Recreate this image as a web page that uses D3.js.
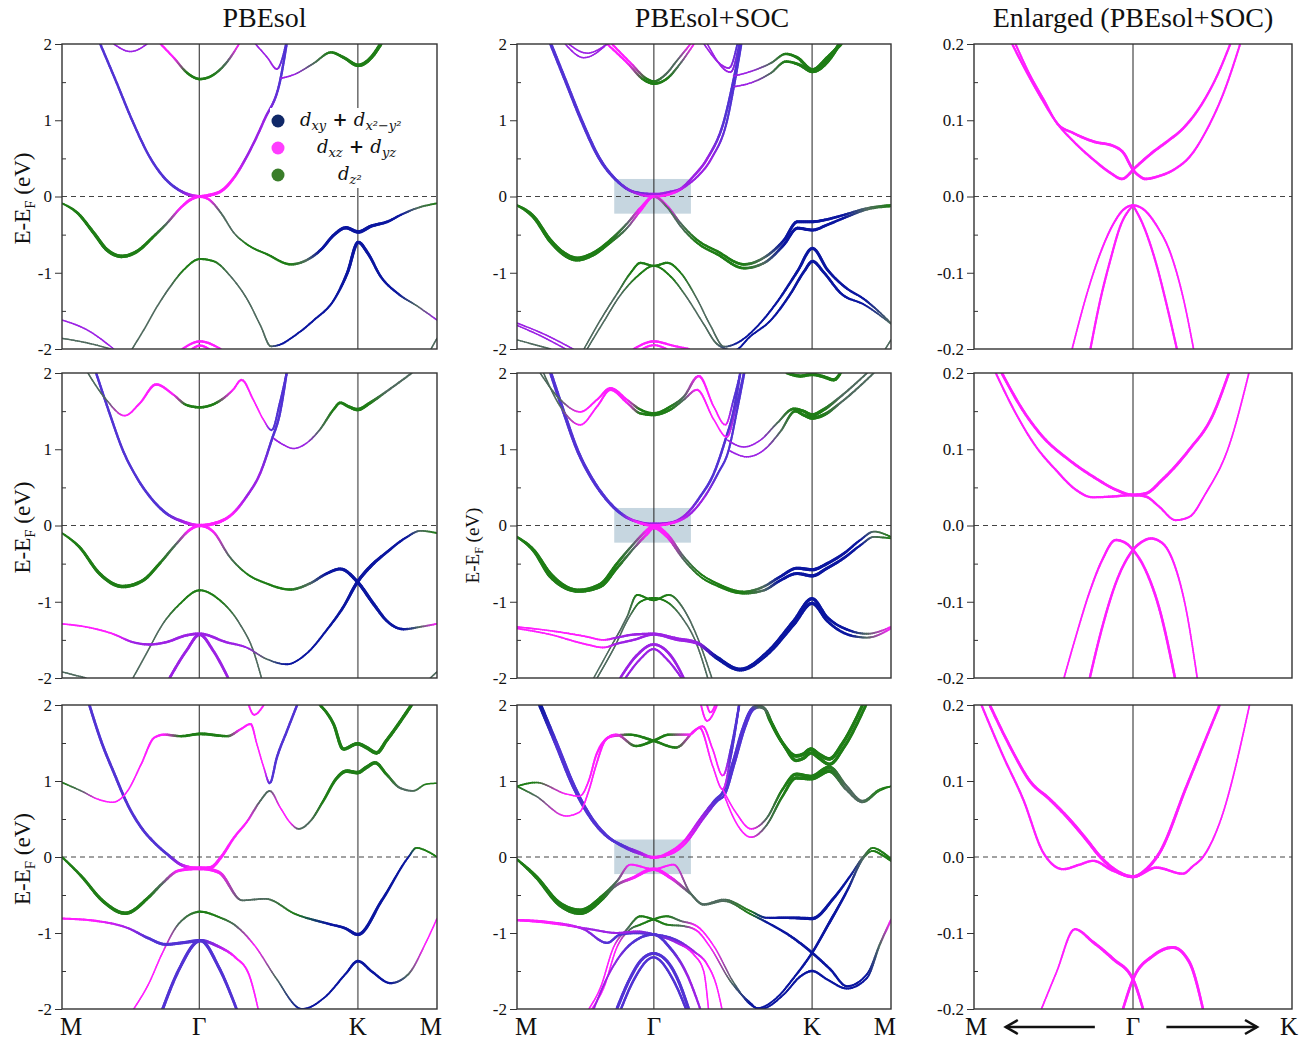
<!DOCTYPE html>
<html>
<head>
<meta charset="utf-8">
<script src="https://cdn.jsdelivr.net/npm/d3@7"></script>
<style>
  body { margin: 0; background: #fff; }
  text { font-family: "Liberation Serif", "Times New Roman", serif; fill: #111; }
</style>
</head>
<body>
<div id="chart"></div>
<script>
// ---- data: each band is a list of [k, E, orbital, weight] ----
// k runs along M-G-K-M (0..1), E in eV; orbital: b=dxy+dx2-y2, m=dxz+dyz, g=dz2, p/v = b+m mixes, x = weak mix
const kLabels = ["M", "Γ", "K", "M"];
const kPos = [0, 0.366, 0.789, 1];
const eTicks = [-2, -1, 0, 1, 2];
const eMinor = [-1.5, -0.5, 0.5, 1.5];
const zTicks = [-0.2, -0.1, 0, 0.1, 0.2];
const zMinor = [-0.15, -0.05, 0.05, 0.15];
const zoomWindow = {k: [0.26, 0.465], E: [-0.225, 0.23]};
const titles = ["PBEsol", "PBEsol+SOC", "Enlarged (PBEsol+SOC)"];

const pbesolTop = [
  [[0.102,2,'p',.5],[0.145,1.5,'p',.5],[0.187,1.0,'p',.5],[0.236,0.5,'p',.5],[0.272,0.25,'p',.55],[0.307,0.1,'p',.6],[0.338,0.025,'v',.7],[0.368,0,'m',.7],[0.396,0.02,'m',.8],[0.427,0.08,'m',.7],[0.459,0.25,'m',.6],[0.490,0.5,'v',.5],[0.539,1.0,'v',.5],[0.583,1.55,'p',.5],[0.599,2,'p',.5]],
  [[0,-0.09,'g',.3],[0.04,-0.21,'g',.6],[0.085,-0.48,'g',.8],[0.12,-0.70,'g',.9],[0.16,-0.785,'g',.9],[0.2,-0.72,'g',.8],[0.245,-0.52,'g',.6],[0.28,-0.35,'x',.4],[0.316,-0.15,'m',.5],[0.343,-0.04,'m',.7],[0.368,0,'m',.7],[0.392,-0.04,'m',.5],[0.423,-0.21,'x',.3],[0.459,-0.48,'x',.2],[0.494,-0.63,'g',.3],[0.548,-0.76,'g',.4],[0.61,-0.89,'g',.5],[0.654,-0.83,'x',.5],[0.69,-0.70,'b',.6],[0.726,-0.50,'b',.7],[0.757,-0.41,'b',.8],[0.79,-0.465,'b',.9],[0.824,-0.39,'b',.8],[0.868,-0.33,'b',.6],[0.904,-0.24,'b',.4],[0.948,-0.15,'x',.3],[1,-0.09,'g',.3]],
  [[0.187,-2,'x',.2],[0.218,-1.75,'x',.2],[0.254,-1.44,'x',.2],[0.289,-1.18,'x',.25],[0.325,-0.96,'g',.3],[0.368,-0.82,'g',.4],[0.405,-0.85,'g',.35],[0.45,-1.05,'x',.2],[0.494,-1.35,'x',.2],[0.53,-1.7,'x',.2],[0.557,-1.965,'x',.3],[0.583,-1.94,'b',.3],[0.619,-1.83,'b',.3],[0.672,-1.62,'b',.35],[0.726,-1.35,'b',.4],[0.761,-1.0,'b',.7],[0.79,-0.6,'b',.8],[0.815,-0.74,'b',.7],[0.85,-1.05,'b',.5],[0.895,-1.27,'b',.4],[0.948,-1.44,'x',.2],[1,-1.62,'v',.2]],
  [[0.263,2,'m',.4],[0.298,1.82,'m',.4],[0.334,1.62,'g',.5],[0.368,1.54,'g',.6],[0.405,1.6,'g',.5],[0.441,1.77,'x',.4],[0.472,2,'m',.3]],
  [[0.138,2,'v',.2],[0.183,1.9,'v',.2],[0.227,2,'v',.2]],
  [[0.516,2,'v',.2],[0.548,1.82,'v',.2],[0.573,1.67,'v',.3],[0.588,1.82,'p',.3],[0.597,2,'p',.3]],
  [[0.583,1.55,'v',.25],[0.619,1.6,'v',.2],[0.672,1.75,'x',.3],[0.717,1.89,'g',.5],[0.752,1.82,'g',.7],[0.79,1.72,'g',.9],[0.824,1.82,'g',.9],[0.85,2,'g',.9]],
  [[0,-1.62,'v',.2],[0.067,-1.75,'v',.2],[0.138,-2,'v',.2]],
  [[0,-1.86,'x',.2],[0.067,-1.92,'x',.2],[0.13,-2,'x',.2]],
  [[0.984,-2,'x',.2],[1,-1.86,'x',.2]],
  [[0.321,-2,'m',.4],[0.368,-1.9,'m',.5],[0.423,-2,'m',.4]],
  [[0.347,-2,'m',.4],[0.368,-1.955,'m',.5],[0.392,-2,'m',.4]]
];

const socTop = [
  [[0.089,2,'p',.5],[0.13,1.5,'p',.5],[0.171,1.0,'p',.5],[0.219,0.5,'p',.5],[0.268,0.2,'p',.55],[0.3125,0.06,'p',.6],[0.366,0.03,'v',.6],[0.411,0.06,'v',.6],[0.4375,0.1,'v',.6],[0.469,0.25,'v',.5],[0.509,0.5,'v',.5],[0.554,1.0,'p',.5],[0.579,1.53,'p',.5],[0.598,2,'p',.5]],
  [[0.092,2,'p',.4],[0.133,1.5,'p',.4],[0.174,1.0,'p',.4],[0.222,0.5,'p',.4],[0.27,0.2,'p',.4],[0.315,0.05,'v',.5],[0.366,0,'m',.5],[0.42,0.05,'m',.5],[0.455,0.15,'v',.4],[0.48,0.25,'v',.4],[0.52,0.5,'v',.4],[0.562,1.0,'p',.4],[0.58,1.44,'p',.4],[0.6,2,'p',.4]],
  [[0,-0.115,'g',.4],[0.045,-0.26,'g',.6],[0.089,-0.57,'g',.8],[0.125,-0.74,'g',.9],[0.161,-0.81,'g',.9],[0.205,-0.74,'g',.8],[0.25,-0.57,'g',.6],[0.295,-0.35,'x',.4],[0.33,-0.15,'m',.5],[0.366,0,'m',.6],[0.402,-0.125,'m',.4],[0.4375,-0.35,'x',.3],[0.482,-0.57,'g',.4],[0.536,-0.72,'g',.5],[0.607,-0.89,'g',.6],[0.661,-0.8,'x',.5],[0.714,-0.57,'b',.6],[0.75,-0.33,'b',.7],[0.79,-0.33,'b',.7],[0.83,-0.30,'b',.6],[0.875,-0.24,'b',.5],[0.9375,-0.15,'x',.3],[1,-0.11,'g',.3]],
  [[0,-0.115,'g',.4],[0.045,-0.28,'g',.6],[0.089,-0.59,'g',.8],[0.161,-0.83,'g',.9],[0.205,-0.76,'g',.8],[0.25,-0.60,'g',.6],[0.295,-0.41,'x',.3],[0.33,-0.19,'m',.4],[0.366,0,'m',.5],[0.402,-0.145,'x',.3],[0.4375,-0.39,'x',.3],[0.482,-0.61,'g',.4],[0.536,-0.76,'g',.5],[0.607,-0.94,'g',.6],[0.661,-0.87,'x',.5],[0.714,-0.63,'b',.6],[0.75,-0.415,'b',.7],[0.79,-0.44,'b',.7],[0.83,-0.37,'b',.6],[0.875,-0.28,'b',.5],[0.9375,-0.17,'x',.3],[1,-0.13,'g',.3]],
  [[0.179,-2,'x',.2],[0.223,-1.62,'x',.2],[0.268,-1.27,'x',.25],[0.304,-1.0,'g',.35],[0.33,-0.87,'g',.45],[0.366,-0.91,'g',.45],[0.402,-0.87,'g',.45],[0.4375,-1.0,'g',.3],[0.482,-1.35,'x',.2],[0.518,-1.7,'x',.2],[0.554,-1.97,'x',.3],[0.589,-1.92,'b',.3],[0.643,-1.7,'b',.3],[0.696,-1.38,'b',.4],[0.75,-0.98,'b',.6],[0.79,-0.68,'b',.7],[0.83,-0.96,'b',.6],[0.875,-1.18,'b',.5],[0.929,-1.35,'b',.4],[1,-1.66,'x',.2]],
  [[0.1875,-2,'x',.2],[0.232,-1.64,'x',.2],[0.277,-1.29,'x',.2],[0.321,-1.05,'g',.3],[0.366,-0.91,'g',.35],[0.411,-1.05,'g',.3],[0.455,-1.33,'x',.2],[0.5,-1.68,'x',.2],[0.536,-1.94,'x',.3],[0.58,-2.02,'b',.3],[0.625,-1.83,'b',.3],[0.679,-1.62,'b',.35],[0.732,-1.27,'b',.5],[0.768,-0.98,'b',.6],[0.79,-0.85,'b',.7],[0.821,-1.0,'b',.6],[0.866,-1.27,'b',.5],[0.929,-1.42,'b',.3],[1,-1.67,'x',.2]],
  [[0.241,2,'m',.4],[0.295,1.75,'m',.4],[0.339,1.53,'g',.5],[0.366,1.48,'g',.6],[0.402,1.55,'g',.5],[0.4375,1.75,'x',.3],[0.473,2,'m',.3]],
  [[0.254,2,'m',.4],[0.304,1.75,'m',.4],[0.348,1.54,'g',.5],[0.366,1.51,'g',.5],[0.397,1.6,'x',.4],[0.429,1.79,'x',.3],[0.464,2,'m',.3]],
  [[0.129,2,'v',.2],[0.179,1.82,'v',.2],[0.241,2,'v',.2]],
  [[0.138,2,'v',.2],[0.1875,1.88,'v',.2],[0.241,2,'v',.2]],
  [[0.5,2,'v',.2],[0.567,1.685,'v',.3],[0.589,2,'p',.3]],
  [[0.509,2,'v',.2],[0.571,1.63,'v',.3],[0.594,2,'p',.3]],
  [[0.579,1.58,'v',.25],[0.625,1.64,'v',.2],[0.679,1.75,'x',.3],[0.719,1.87,'g',.5],[0.75,1.82,'g',.7],[0.79,1.66,'g',.9],[0.83,1.82,'g',.9],[0.866,2,'g',.9]],
  [[0.58,1.44,'v',.25],[0.625,1.49,'v',.2],[0.679,1.62,'x',.3],[0.719,1.77,'g',.5],[0.754,1.73,'g',.7],[0.79,1.64,'g',.9],[0.83,1.77,'g',.9],[0.862,2,'g',.9]],
  [[0,-1.66,'v',.2],[0.07,-1.8,'v',.2],[0.15,-2,'v',.2]],
  [[0,-1.69,'v',.2],[0.06,-1.82,'v',.2],[0.13,-2,'v',.2]],
  [[0,-1.88,'x',.2],[0.09,-2,'x',.2]],
  [[0.985,-2,'x',.2],[1,-1.88,'x',.2]],
  [[0.312,-2,'m',.4],[0.366,-1.9,'m',.5],[0.42,-1.96,'m',.4],[0.46,-2,'m',.4]],
  [[0.335,-2,'m',.4],[0.366,-1.95,'m',.4],[0.40,-2,'m',.4]]
];

const pbesolMid = [
  [[0.091,2,'p',.5],[0.127,1.47,'p',.5],[0.162,0.99,'p',.5],[0.198,0.64,'p',.5],[0.234,0.38,'p',.55],[0.278,0.16,'p',.6],[0.323,0.05,'v',.7],[0.367,0,'m',.8],[0.412,0.035,'m',.8],[0.456,0.16,'m',.6],[0.492,0.38,'v',.5],[0.528,0.68,'v',.5],[0.559,1.12,'p',.5],[0.581,1.47,'p',.5],[0.599,2,'p',.5]],
  [[0.069,2,'x',.2],[0.118,1.65,'x',.2],[0.167,1.44,'m',.25],[0.207,1.6,'m',.35],[0.251,1.85,'m',.55],[0.296,1.72,'m',.4],[0.332,1.58,'g',.5],[0.367,1.55,'g',.6],[0.412,1.61,'g',.5],[0.456,1.78,'m',.35],[0.479,1.91,'m',.4],[0.510,1.65,'m',.25],[0.537,1.39,'m',.2],[0.559,1.25,'p',.3],[0.581,1.61,'p',.4],[0.599,2,'p',.4]],
  [[0.565,1.14,'v',.3],[0.590,1.06,'v',.2],[0.617,1.01,'v',.2],[0.652,1.08,'v',.2],[0.688,1.26,'x',.3],[0.724,1.52,'g',.5],[0.742,1.61,'g',.6],[0.764,1.56,'g',.7],[0.788,1.52,'g',.9],[0.822,1.61,'g',.7],[0.866,1.76,'x',.4],[0.933,2,'x',.3]],
  [[0,-0.1,'g',.3],[0.046,-0.28,'g',.6],[0.1,-0.63,'g',.8],[0.162,-0.80,'g',.9],[0.216,-0.72,'g',.8],[0.260,-0.5,'g',.6],[0.305,-0.24,'x',.4],[0.340,-0.06,'m',.6],[0.367,0,'m',.8],[0.403,-0.08,'m',.5],[0.447,-0.41,'x',.3],[0.492,-0.63,'g',.3],[0.545,-0.76,'g',.4],[0.608,-0.84,'g',.5],[0.661,-0.76,'x',.5],[0.706,-0.63,'b',.6],[0.742,-0.57,'b',.7],[0.788,-0.74,'b',.8],[0.831,-1.03,'b',.8],[0.866,-1.25,'b',.6],[0.911,-1.36,'b',.5],[0.955,-1.33,'x',.3],[1,-1.29,'m',.3]],
  [[0.189,-2,'x',.2],[0.225,-1.68,'x',.2],[0.269,-1.29,'x',.2],[0.314,-1.03,'g',.3],[0.367,-0.85,'g',.4],[0.421,-0.98,'g',.3],[0.474,-1.29,'x',.2],[0.510,-1.64,'x',.2],[0.532,-2,'x',.2]],
  [[0,-1.29,'m',.25],[0.064,-1.33,'m',.25],[0.135,-1.42,'m',.3],[0.189,-1.53,'v',.4],[0.234,-1.56,'v',.5],[0.278,-1.53,'v',.5],[0.332,-1.44,'v',.6],[0.367,-1.42,'v',.6],[0.438,-1.53,'v',.5],[0.492,-1.6,'v',.3],[0.545,-1.75,'x',.2],[0.599,-1.82,'b',.3],[0.652,-1.68,'b',.3],[0.706,-1.37,'b',.4],[0.750,-1.07,'b',.6],[0.788,-0.74,'b',.8],[0.822,-0.54,'b',.8],[0.866,-0.35,'b',.6],[0.920,-0.15,'b',.4],[0.955,-0.07,'x',.3],[1,-0.1,'g',.3]],
  [[0.287,-2,'v',.6],[0.332,-1.64,'v',.6],[0.367,-1.43,'v',.7],[0.403,-1.64,'v',.6],[0.443,-2,'v',.6]],
  [[0,-1.92,'x',.2],[0.064,-2,'x',.2]],
  [[0.982,-2,'x',.2],[1,-1.92,'x',.2]]
];

const socMid = [
  [[0.089,2,'p',.5],[0.125,1.47,'p',.5],[0.160,0.99,'p',.5],[0.196,0.64,'p',.5],[0.232,0.38,'p',.5],[0.276,0.16,'p',.55],[0.321,0.05,'v',.6],[0.365,0.02,'v',.6],[0.410,0.035,'v',.6],[0.455,0.16,'v',.5],[0.490,0.38,'p',.5],[0.526,0.68,'p',.5],[0.557,1.12,'p',.5],[0.579,1.5,'p',.5],[0.597,2,'p',.5]],
  [[0.092,2,'p',.4],[0.128,1.47,'p',.4],[0.163,0.99,'p',.4],[0.199,0.64,'p',.4],[0.235,0.38,'p',.4],[0.279,0.16,'p',.4],[0.324,0.04,'m',.5],[0.365,0,'m',.6],[0.42,0.04,'m',.5],[0.465,0.16,'v',.4],[0.502,0.38,'v',.4],[0.537,0.68,'p',.4],[0.566,0.99,'p',.4],[0.588,1.5,'p',.4],[0.608,2,'p',.4]],
  [[0.062,2,'x',.2],[0.116,1.65,'x',.2],[0.169,1.49,'m',.25],[0.214,1.65,'m',.35],[0.250,1.8,'m',.55],[0.294,1.65,'m',.4],[0.330,1.52,'g',.5],[0.365,1.47,'g',.6],[0.410,1.56,'g',.5],[0.446,1.69,'x',.4],[0.486,1.96,'m',.5],[0.526,1.56,'m',.25],[0.557,1.32,'m',.25],[0.579,1.65,'p',.3],[0.597,2,'p',.3]],
  [[0.071,2,'x',.2],[0.116,1.56,'x',.2],[0.169,1.32,'m',.25],[0.214,1.56,'m',.3],[0.250,1.78,'m',.5],[0.294,1.61,'m',.4],[0.330,1.47,'g',.5],[0.365,1.45,'g',.6],[0.410,1.52,'g',.5],[0.446,1.65,'x',.3],[0.481,1.78,'m',.4],[0.526,1.39,'m',.2],[0.561,1.16,'m',.25],[0.588,1.61,'p',.3],[0.606,2,'p',.3]],
  [[0.563,1.12,'v',.25],[0.606,1.03,'v',.2],[0.651,1.12,'v',.2],[0.695,1.34,'x',.3],[0.740,1.53,'g',.6],[0.766,1.5,'g',.7],[0.789,1.45,'g',.9],[0.820,1.52,'g',.8],[0.865,1.69,'x',.4],[0.936,2,'x',.3]],
  [[0.569,0.98,'v',.25],[0.615,0.9,'v',.2],[0.660,0.99,'v',.2],[0.704,1.23,'x',.3],[0.744,1.5,'g',.6],[0.766,1.45,'g',.7],[0.789,1.41,'g',.9],[0.820,1.45,'g',.8],[0.865,1.61,'x',.4],[0.954,2,'x',.3]],
  [[0.722,2,'g',.7],[0.758,1.96,'g',.8],[0.789,1.98,'g',.8],[0.820,1.95,'g',.8],[0.847,1.91,'g',.8],[0.865,2,'g',.7]],
  [[0,-0.15,'g',.4],[0.045,-0.32,'g',.6],[0.089,-0.63,'g',.8],[0.165,-0.85,'g',.9],[0.223,-0.77,'g',.8],[0.267,-0.5,'g',.6],[0.312,-0.24,'x',.4],[0.348,-0.06,'m',.6],[0.365,0,'m',.7],[0.401,-0.11,'m',.5],[0.446,-0.41,'x',.3],[0.490,-0.63,'g',.3],[0.535,-0.76,'g',.4],[0.606,-0.87,'g',.5],[0.660,-0.8,'x',.5],[0.704,-0.67,'b',.6],[0.749,-0.56,'b',.7],[0.789,-0.58,'b',.8],[0.829,-0.5,'b',.7],[0.873,-0.37,'b',.6],[0.918,-0.19,'b',.4],[0.954,-0.08,'x',.3],[1,-0.15,'g',.3]],
  [[0,-0.15,'g',.4],[0.045,-0.34,'g',.6],[0.089,-0.67,'g',.8],[0.165,-0.86,'g',.9],[0.223,-0.8,'g',.8],[0.267,-0.56,'g',.6],[0.312,-0.3,'x',.4],[0.348,-0.11,'m',.6],[0.365,-0.03,'m',.7],[0.401,-0.15,'m',.5],[0.446,-0.45,'x',.3],[0.490,-0.67,'g',.3],[0.535,-0.79,'g',.4],[0.606,-0.89,'g',.5],[0.660,-0.85,'x',.5],[0.704,-0.72,'b',.6],[0.749,-0.63,'b',.7],[0.789,-0.66,'b',.8],[0.829,-0.56,'b',.7],[0.873,-0.43,'b',.6],[0.918,-0.26,'b',.4],[0.954,-0.15,'x',.3],[1,-0.17,'g',.3]],
  [[0.205,-2,'x',.2],[0.25,-1.6,'x',.2],[0.294,-1.2,'x',.25],[0.321,-0.91,'g',.35],[0.365,-0.98,'g',.4],[0.406,-0.91,'g',.35],[0.446,-1.1,'x',.25],[0.481,-1.45,'x',.2],[0.521,-2,'x',.2]],
  [[0.214,-2,'x',.2],[0.26,-1.6,'x',.2],[0.30,-1.2,'x',.2],[0.33,-1.0,'g',.3],[0.365,-0.95,'g',.35],[0.40,-1.0,'g',.3],[0.44,-1.2,'x',.2],[0.48,-1.55,'x',.2],[0.51,-2,'x',.2]],
  [[0,-1.33,'m',.25],[0.089,-1.38,'m',.25],[0.178,-1.45,'m',.3],[0.232,-1.50,'m',.3],[0.267,-1.47,'v',.4],[0.312,-1.43,'v',.5],[0.365,-1.42,'v',.5],[0.428,-1.48,'v',.5],[0.481,-1.53,'v',.4],[0.535,-1.72,'b',.4],[0.597,-1.88,'b',.5],[0.668,-1.66,'b',.5],[0.740,-1.25,'b',.7],[0.789,-0.96,'b',.8],[0.829,-1.2,'b',.6],[0.891,-1.38,'b',.5],[0.936,-1.42,'x',.3],[1,-1.33,'m',.3]],
  [[0,-1.35,'m',.25],[0.089,-1.43,'m',.25],[0.178,-1.55,'m',.3],[0.232,-1.6,'m',.3],[0.267,-1.55,'v',.4],[0.312,-1.5,'v',.5],[0.365,-1.43,'v',.5],[0.428,-1.5,'v',.5],[0.481,-1.55,'v',.4],[0.535,-1.75,'b',.4],[0.597,-1.9,'b',.5],[0.668,-1.7,'b',.5],[0.740,-1.3,'b',.7],[0.789,-1.02,'b',.8],[0.829,-1.25,'b',.6],[0.891,-1.44,'b',.5],[0.936,-1.47,'x',.3],[1,-1.35,'m',.3]],
  [[0.276,-2,'v',.5],[0.321,-1.7,'v',.6],[0.365,-1.56,'v',.6],[0.41,-1.7,'v',.6],[0.446,-2,'v',.5]],
  [[0.29,-2,'v',.4],[0.33,-1.75,'v',.4],[0.365,-1.62,'v',.4],[0.40,-1.75,'v',.4],[0.44,-2,'v',.4]]
];

const pbesolBot = [
  [[0.073,2,'p',.6],[0.104,1.53,'p',.6],[0.140,1.09,'p',.6],[0.175,0.69,'p',.6],[0.211,0.39,'p',.6],[0.246,0.19,'p',.6],[0.281,0.035,'p',.6],[0.317,-0.1,'v',.7],[0.343,-0.14,'m',.8],[0.370,-0.15,'m',.9],[0.396,-0.14,'m',.8],[0.423,-0.01,'m',.7],[0.458,0.25,'m',.5],[0.494,0.47,'m',.4],[0.529,0.74,'x',.3],[0.554,0.87,'x',.3],[0.582,0.65,'m',.2],[0.609,0.45,'m',.2],[0.631,0.37,'x',.3],[0.662,0.47,'x',.3],[0.697,0.74,'g',.5],[0.733,1.04,'g',.7],[0.759,1.13,'g',.9],[0.788,1.11,'g',.9],[0.812,1.18,'g',.9],[0.835,1.24,'g',.8],[0.865,1.09,'g',.6],[0.901,0.91,'x',.4],[0.936,0.87,'x',.3],[0.972,0.96,'g',.2],[1,0.97,'g',.2]],
  [[0,0.98,'g',.25],[0.051,0.87,'x',.2],[0.096,0.76,'m',.2],[0.135,0.72,'m',.2],[0.175,0.87,'m',.2],[0.211,1.22,'m',.25],[0.246,1.57,'m',.4],[0.273,1.61,'m',.5],[0.317,1.59,'g',.5],[0.370,1.62,'g',.7],[0.441,1.59,'g',.5],[0.476,1.68,'m',.4],[0.503,1.75,'m',.4],[0.520,1.48,'m',.2],[0.538,1.18,'m',.2],[0.554,0.97,'p',.4],[0.573,1.31,'p',.5],[0.6,1.66,'p',.5],[0.627,2,'p',.5]],
  [[0.498,2,'m',.3],[0.512,1.87,'m',.3],[0.538,2,'m',.3]],
  [[0.688,2,'g',.6],[0.724,1.75,'g',.7],[0.750,1.42,'g',.8],[0.788,1.49,'g',.9],[0.812,1.44,'g',.9],[0.839,1.37,'g',.9],[0.865,1.53,'g',.8],[0.932,2,'g',.8]],
  [[0,0,'g',.4],[0.053,-0.26,'g',.6],[0.107,-0.57,'g',.8],[0.169,-0.74,'g',.9],[0.231,-0.53,'g',.7],[0.267,-0.35,'x',.5],[0.311,-0.18,'m',.6],[0.369,-0.15,'m',.9],[0.418,-0.2,'m',.8],[0.48,-0.57,'x',.3],[0.542,-0.55,'x',.3],[0.622,-0.75,'g',.3],[0.711,-0.88,'b',.5],[0.756,-0.94,'b',.6],[0.789,-1.02,'b',.8],[0.853,-0.57,'b',.6],[0.924,0,'b',.3],[0.945,0.12,'g',.3],[0.972,0.08,'g',.3],[1,0,'g',.3]],
  [[0.191,-2,'m',.2],[0.231,-1.67,'m',.2],[0.267,-1.27,'m',.2],[0.311,-0.88,'x',.25],[0.369,-0.72,'g',.45],[0.418,-0.79,'g',.35],[0.462,-0.9,'x',.3],[0.516,-1.18,'m',.2],[0.569,-1.58,'x',.2],[0.64,-2.0,'b',.3],[0.702,-1.84,'b',.3],[0.756,-1.54,'b',.4],[0.789,-1.37,'b',.6],[0.827,-1.51,'b',.5],[0.876,-1.66,'b',.4],[0.924,-1.54,'x',.3],[0.969,-1.14,'m',.2],[1,-0.81,'m',.2]],
  [[0,-0.81,'m',.4],[0.089,-0.84,'m',.4],[0.178,-0.94,'v',.4],[0.231,-1.07,'p',.6],[0.276,-1.15,'p',.7],[0.32,-1.13,'p',.7],[0.369,-1.1,'p',.8],[0.418,-1.18,'v',.6],[0.462,-1.32,'m',.4],[0.498,-1.54,'m',.3],[0.524,-2.02,'m',.2]],
  [[0.267,-2.02,'p',.7],[0.311,-1.49,'p',.7],[0.369,-1.1,'p',.8],[0.418,-1.45,'p',.7],[0.467,-2.02,'p',.6]]
];

const socBot = [
  [[0.06,2,'b',.7],[0.104,1.48,'p',.7],[0.149,0.94,'p',.7],[0.193,0.54,'p',.6],[0.238,0.28,'p',.6],[0.283,0.15,'p',.6],[0.327,0.06,'v',.6],[0.365,-0.01,'m',.6],[0.407,0.06,'m',.6],[0.443,0.19,'m',.5],[0.496,0.54,'v',.5],[0.532,0.76,'p',.6],[0.55,0.85,'p',.6],[0.577,1.24,'p',.6],[0.603,1.68,'p',.6],[0.626,1.94,'p',.6],[0.643,1.99,'x',.6],[0.661,1.96,'x',.6],[0.675,1.81,'g',.7],[0.710,1.5,'g',.8],[0.746,1.33,'g',.9],[0.764,1.35,'g',.9],[0.786,1.42,'g',.9],[0.808,1.35,'g',.9],[0.835,1.29,'g',.9],[0.871,1.5,'g',.8],[0.924,2,'g',.7]],
  [[0.064,2,'b',.6],[0.108,1.48,'p',.6],[0.153,0.94,'p',.6],[0.197,0.54,'p',.5],[0.241,0.28,'p',.5],[0.286,0.13,'p',.5],[0.33,0.04,'v',.5],[0.365,0.0,'m',.5],[0.41,0.04,'m',.5],[0.448,0.17,'m',.5],[0.5,0.52,'v',.5],[0.536,0.74,'p',.5],[0.555,0.82,'p',.5],[0.582,1.24,'p',.5],[0.608,1.68,'p',.5],[0.632,1.94,'p',.5],[0.648,1.97,'x',.5],[0.666,1.93,'x',.5],[0.68,1.78,'g',.6],[0.715,1.46,'g',.7],[0.746,1.27,'g',.8],[0.766,1.3,'g',.8],[0.786,1.37,'g',.8],[0.808,1.3,'g',.8],[0.835,1.22,'g',.8],[0.875,1.45,'g',.7],[0.933,2,'g',.6]],
  [[0.55,0.89,'m',.2],[0.586,0.58,'m',.2],[0.626,0.37,'m',.25],[0.666,0.50,'x',.3],[0.710,0.89,'g',.5],[0.746,1.09,'g',.8],[0.786,1.06,'g',.9],[0.835,1.18,'g',.9],[0.880,0.94,'x',.5],[0.924,0.74,'x',.3],[0.969,0.89,'g',.2],[1,0.93,'g',.2]],
  [[0.555,0.8,'m',.2],[0.586,0.45,'m',.2],[0.626,0.26,'m',.25],[0.666,0.41,'x',.3],[0.710,0.80,'g',.5],[0.746,1.04,'g',.8],[0.786,1.03,'g',.9],[0.835,1.13,'g',.9],[0.880,0.89,'x',.5],[0.924,0.72,'x',.3],[0.969,0.87,'g',.2],[1,0.93,'g',.2]],
  [[0,0.93,'g',.3],[0.051,0.98,'g',.25],[0.131,0.83,'m',.2],[0.167,0.80,'m',.2],[0.193,1.02,'m',.3],[0.211,1.33,'m',.4],[0.238,1.55,'m',.5],[0.256,1.59,'m',.5],[0.300,1.61,'g',.5],[0.365,1.53,'g',.6],[0.425,1.44,'g',.5],[0.479,1.68,'m',.4],[0.496,1.72,'m',.4],[0.523,1.42,'m',.25],[0.550,1.07,'m',.25],[0.572,1.42,'p',.5],[0.594,2,'p',.5]],
  [[0,0.93,'g',.3],[0.051,0.80,'x',.2],[0.131,0.54,'m',.2],[0.167,0.59,'m',.2],[0.193,0.89,'m',.25],[0.211,1.2,'m',.3],[0.238,1.55,'m',.5],[0.265,1.61,'m',.5],[0.318,1.46,'g',.5],[0.365,1.53,'g',.6],[0.407,1.61,'g',.5],[0.461,1.61,'m',.4],[0.488,1.70,'m',.4],[0.523,1.2,'m',.2],[0.550,0.89,'m',.25],[0.572,1.33,'p',.4],[0.594,2,'p',.4]],
  [[0.492,2,'m',.3],[0.508,1.79,'m',.3],[0.535,2,'m',.3]],
  [[0.508,2,'m',.3],[0.517,1.9,'m',.3],[0.53,2,'m',.3]],
  [[0,-0.03,'g',.4],[0.051,-0.25,'g',.6],[0.113,-0.6,'g',.8],[0.169,-0.70,'g',.9],[0.229,-0.51,'g',.7],[0.267,-0.32,'x',.4],[0.303,-0.10,'m',.3],[0.365,-0.16,'m',.4],[0.419,-0.10,'m',.3],[0.463,-0.47,'x',.3],[0.499,-0.62,'x',.3],[0.553,-0.56,'x',.3],[0.624,-0.71,'g',.3],[0.668,-0.80,'b',.4],[0.731,-0.80,'b',.6],[0.789,-0.81,'b',.8],[0.847,-0.54,'b',.6],[0.891,-0.25,'b',.4],[0.927,0.01,'x',.3],[0.951,0.12,'g',.3],[0.978,0.06,'g',.4],[1,-0.03,'g',.4]],
  [[0,-0.03,'g',.4],[0.051,-0.27,'g',.6],[0.113,-0.63,'g',.8],[0.169,-0.74,'g',.9],[0.229,-0.55,'g',.7],[0.258,-0.40,'x',.5],[0.312,-0.27,'m',.7],[0.365,-0.16,'m',.9],[0.41,-0.27,'m',.8],[0.463,-0.48,'x',.4],[0.499,-0.63,'x',.3],[0.553,-0.58,'x',.3],[0.624,-0.75,'g',.3],[0.668,-0.86,'b',.4],[0.731,-1.04,'b',.5],[0.789,-1.26,'b',.6],[0.838,-1.48,'b',.5],[0.882,-1.70,'b',.4],[0.936,-1.54,'b',.3],[0.971,-1.13,'x',.2],[1,-0.82,'m',.2]],
  [[0.192,-2,'m',.2],[0.223,-1.72,'m',.2],[0.258,-1.19,'m',.2],[0.294,-0.95,'x',.3],[0.33,-0.78,'g',.4],[0.365,-0.82,'g',.4],[0.401,-0.89,'g',.35],[0.446,-0.91,'x',.3],[0.481,-0.97,'m',.3],[0.517,-1.19,'m',.2],[0.570,-1.63,'x',.2],[0.624,-1.92,'b',.3],[0.642,-1.99,'b',.3],[0.695,-1.85,'b',.3],[0.740,-1.59,'b',.4],[0.789,-1.26,'b',.5],[0.838,-0.84,'b',.6],[0.882,-0.45,'b',.5],[0.927,-0.01,'x',.3],[0.951,0.08,'g',.3],[0.978,0.02,'g',.4],[1,-0.05,'g',.4]],
  [[0.2,-2,'m',.2],[0.232,-1.72,'m',.2],[0.267,-1.19,'m',.2],[0.303,-0.95,'x',.3],[0.33,-0.89,'g',.35],[0.365,-0.82,'g',.4],[0.401,-0.78,'g',.4],[0.437,-0.84,'x',.3],[0.481,-0.91,'m',.3],[0.526,-1.17,'m',.2],[0.579,-1.65,'x',.2],[0.624,-1.94,'b',.3],[0.651,-2.0,'b',.3],[0.713,-1.81,'b',.3],[0.758,-1.57,'b',.4],[0.789,-1.5,'b',.5],[0.829,-1.61,'b',.4],[0.882,-1.73,'b',.4],[0.936,-1.59,'b',.3],[0.971,-1.15,'x',.2],[1,-0.84,'m',.2]],
  [[0,-0.83,'m',.5],[0.089,-0.86,'m',.5],[0.178,-0.95,'v',.4],[0.241,-1.13,'p',.5],[0.276,-1.02,'p',.5],[0.321,-1.0,'p',.5],[0.365,-1.02,'p',.6],[0.419,-1.08,'p',.6],[0.472,-1.24,'v',.4],[0.508,-1.41,'m',.3],[0.535,-1.72,'m',.2],[0.548,-2.0,'m',.2]],
  [[0,-0.83,'m',.4],[0.107,-0.88,'m',.4],[0.196,-0.95,'v',.4],[0.267,-1.0,'v',.4],[0.321,-0.98,'v',.4],[0.365,-1.02,'p',.5],[0.428,-1.13,'v',.4],[0.472,-1.28,'m',.3],[0.499,-1.5,'m',.2],[0.512,-2.0,'m',.2]],
  [[0.205,-2,'v',.3],[0.25,-1.5,'v',.3],[0.303,-1.15,'p',.5],[0.365,-1.02,'p',.6],[0.41,-1.2,'p',.6],[0.455,-1.55,'v',.5],[0.49,-2,'v',.4]],
  [[0.267,-2,'p',.7],[0.303,-1.59,'p',.7],[0.33,-1.37,'p',.7],[0.365,-1.27,'p',.7],[0.401,-1.37,'p',.7],[0.428,-1.59,'p',.7],[0.459,-2,'p',.7]],
  [[0.278,-2,'p',.5],[0.312,-1.62,'p',.5],[0.365,-1.32,'p',.5],[0.418,-1.62,'p',.5],[0.452,-2,'p',.5]]
];

// enlarged windows: [k relative to Gamma (-1..1), E, weight], all dxz+dyz
const zoomTop = [
  [[-0.760,0.2,.3],[-0.666,0.162,.3],[-0.582,0.131,.3],[-0.477,0.096,.3],[-0.373,0.072,.3],[-0.247,0.048,.35],[-0.142,0.031,.4],[-0.069,0.023,.45],[-0.017,0.031,.45],[0,0.035,.45],[0.046,0.044,.45],[0.130,0.059,.45],[0.214,0.072,.45],[0.318,0.090,.4],[0.423,0.118,.35],[0.528,0.158,.3],[0.612,0.2,.3]],
  [[-0.739,0.2,.25],[-0.645,0.158,.25],[-0.561,0.127,.25],[-0.477,0.096,.3],[-0.373,0.083,.4],[-0.247,0.072,.45],[-0.121,0.066,.45],[-0.059,0.057,.45],[0,0.035,.45],[0.046,0.026,.45],[0.077,0.023,.45],[0.151,0.026,.4],[0.255,0.035,.35],[0.360,0.053,.3],[0.465,0.088,.25],[0.570,0.136,.25],[0.674,0.2,.25]],
  [[-0.383,-0.2,.15],[-0.289,-0.127,.15],[-0.205,-0.074,.2],[-0.121,-0.035,.25],[-0.059,-0.017,.3],[0,-0.0116,.3],[0.067,-0.017,.3],[0.151,-0.039,.25],[0.235,-0.074,.2],[0.318,-0.135,.15],[0.381,-0.2,.15]],
  [[-0.268,-0.2,.3],[-0.205,-0.135,.3],[-0.142,-0.083,.3],[-0.080,-0.039,.3],[0,-0.0116,.3]],
  [[0,-0.0116,.3],[0.067,-0.039,.3],[0.151,-0.092,.3],[0.214,-0.144,.3],[0.276,-0.2,.3]]
];

const zoomMid = [
  [[-0.825,0.2,.45],[-0.695,0.152,.45],[-0.570,0.117,.45],[-0.402,0.086,.45],[-0.235,0.062,.45],[-0.109,0.047,.45],[0,0.04,.5],[0.080,0.042,.5],[0.184,0.06,.5],[0.352,0.099,.45],[0.498,0.143,.45],[0.603,0.2,.4]],
  [[-0.863,0.2,.25],[-0.737,0.147,.25],[-0.612,0.104,.25],[-0.486,0.073,.3],[-0.360,0.047,.3],[-0.255,0.037,.3],[-0.130,0.038,.35],[0,0.04,.4],[0.080,0.038,.4],[0.163,0.025,.3],[0.268,0.007,.25],[0.352,0.011,.25],[0.457,0.042,.2],[0.603,0.104,.15],[0.729,0.2,.15]],
  [[-0.434,-0.2,.15],[-0.360,-0.146,.15],[-0.276,-0.089,.2],[-0.193,-0.045,.3],[-0.109,-0.019,.4],[-0.046,-0.023,.4],[0,-0.032,.4],[0.080,-0.059,.4],[0.163,-0.107,.4],[0.264,-0.2,.4]],
  [[-0.272,-0.2,.35],[-0.193,-0.133,.35],[-0.109,-0.076,.35],[0,-0.032,.4],[0.059,-0.021,.4],[0.111,-0.017,.4],[0.184,-0.023,.35],[0.258,-0.05,.25],[0.331,-0.107,.15],[0.404,-0.2,.15]]
];

const zoomBot = [
  [[-0.901,0.2,.45],[-0.775,0.146,.45],[-0.649,0.1,.5],[-0.524,0.076,.55],[-0.398,0.049,.6],[-0.293,0.023,.6],[-0.209,0.001,.6],[-0.105,-0.018,.6],[0,-0.026,.6],[0.084,-0.016,.55],[0.168,0.006,.5],[0.335,0.092,.45],[0.461,0.157,.4],[0.545,0.2,.4]],
  [[-0.953,0.2,.3],[-0.817,0.133,.3],[-0.691,0.076,.3],[-0.565,0.006,.3],[-0.44,-0.016,.35],[-0.335,-0.01,.35],[-0.251,-0.005,.35],[-0.126,-0.018,.4],[0,-0.026,.4],[0.147,-0.014,.4],[0.314,-0.022,.35],[0.377,-0.012,.3],[0.44,0,.25],[0.545,0.045,.15],[0.733,0.2,.15]],
  [[-0.576,-0.2,.15],[-0.482,-0.152,.15],[-0.366,-0.095,.3],[-0.251,-0.112,.5],[-0.126,-0.134,.55],[0,-0.161,.5],[0.063,-0.2,.4]],
  [[-0.063,-0.2,.4],[0,-0.161,.45],[0.126,-0.13,.55],[0.251,-0.119,.55],[0.356,-0.139,.5],[0.44,-0.2,.4]]
];

const legendItems = [
  {color: "#102868", parts: [["d", 0], ["xy", 1], [" + ", 0], ["d", 0], ["x²−y²", 1]]},
  {color: "#ff3dff", parts: [["d", 0], ["xz", 1], [" + ", 0], ["d", 0], ["yz", 1]]},
  {color: "#3a7d2a", parts: [["d", 0], ["z²", 1]]}
];

// ---- layout ----
const palette = {b: "#0b16a0", p: "#5233d4", v: "#9c22e4", m: "#ff1eff", g: "#1f7d16", x: "#4f6a5e"};
const colsX = [[62, 437], [517, 891], [974, 1292]];
const rowsY = [[44, 349], [373, 678], [705, 1009]];
const panels = [
  {row: 0, col: 0, bands: pbesolTop}, {row: 0, col: 1, bands: socTop}, {row: 0, col: 2, bands: zoomTop},
  {row: 1, col: 0, bands: pbesolMid}, {row: 1, col: 1, bands: socMid}, {row: 1, col: 2, bands: zoomMid},
  {row: 2, col: 0, bands: pbesolBot}, {row: 2, col: 1, bands: socBot}, {row: 2, col: 2, bands: zoomBot}
];

const svg = d3.select("#chart").append("svg")
    .attr("width", 1315)
    .attr("height", 1040);

const bisect = d3.bisector(d => d[0]).right;

// band drawn as short pieces so colour and thickness follow the orbital weight
function drawBand(layer, band, x, y, base, gain) {
    const line = d3.line().x(d => x(d[0])).y(d => y(d[1])).curve(d3.curveMonotoneX);
    const probe = layer.append("path").attr("d", line(band)).attr("fill", "none");
    const node = probe.node();
    const len = node.getTotalLength();
    const n = Math.max(2, Math.ceil(len / 2));
    const s = d3.range(n + 1).map(i => node.getPointAtLength(len * i / n));
    probe.remove();
    const segs = [];
    for (let i = 0; i < n; i++) {
        const k = x.invert((s[i].x + s[i + 1].x) / 2);
        const j = Math.min(Math.max(bisect(band, k) - 1, 0), band.length - 2);
        const a = band[j], b = band[j + 1];
        const f = Math.max(0, Math.min(1, (k - a[0]) / (b[0] - a[0])));
        segs.push({
            x1: s[i].x, y1: s[i].y, x2: s[i + 1].x, y2: s[i + 1].y,
            c: d3.interpolateRgb(palette[a[2]], palette[b[2]])(f),
            w: a[3] + (b[3] - a[3]) * f
        });
    }
    layer.append("g").selectAll("line")
        .data(segs)
        .enter().append("line")
        .attr("x1", d => d.x1).attr("y1", d => d.y1)
        .attr("x2", d => d.x2).attr("y2", d => d.y2)
        .attr("stroke", d => d.c)
        .attr("stroke-width", d => base + gain * d.w)
        .attr("stroke-linecap", "round");
}

panels.forEach((p, i) => {
    const [x0, x1] = colsX[p.col];
    const [y0, y1] = rowsY[p.row];
    const zoomed = p.col === 2;
    const x = d3.scaleLinear().domain(zoomed ? [-1, 1] : [0, 1]).range([x0, x1]);
    const y = d3.scaleLinear().domain(zoomed ? [-0.2, 0.2] : [-2, 2]).range([y1, y0]);
    const g = svg.append("g");

    g.append("clipPath").attr("id", "clip" + i)
        .append("rect").attr("x", x0).attr("y", y0).attr("width", x1 - x0).attr("height", y1 - y0);

    if (p.col === 1) {
        g.append("rect")
            .attr("x", x(zoomWindow.k[0])).attr("width", x(zoomWindow.k[1]) - x(zoomWindow.k[0]))
            .attr("y", y(zoomWindow.E[1])).attr("height", y(zoomWindow.E[0]) - y(zoomWindow.E[1]))
            .style("fill", "#c6d6e0");
    }

    // high-symmetry lines and Fermi level
    const marks = zoomed ? [0] : kPos.slice(1, 3);
    g.selectAll(".sym")
        .data(marks)
        .enter().append("line")
        .attr("x1", d => x(d)).attr("x2", d => x(d))
        .attr("y1", y0).attr("y2", y1)
        .style("stroke", (d, j) => (p.col === 0 && p.row > 0 && j === 1) ? "#888" : "#222")
        .style("stroke-width", (d, j) => (p.col === 0 && p.row > 0 && j === 1) ? 1.8 : 1);

    g.append("line")
        .attr("x1", x0).attr("x2", x1).attr("y1", y(0)).attr("y2", y(0))
        .style("stroke", "#444").style("stroke-width", 1).style("stroke-dasharray", "5,4");

    const layer = g.append("g").attr("clip-path", "url(#clip" + i + ")");
    p.bands.forEach(b => {
        const pts = zoomed ? b.map(d => [d[0], d[1], 'm', d[2]]) : b;
        drawBand(layer, pts, x, y, zoomed ? 1.1 : 0.9, zoomed ? 3.6 : 3);
    });

    g.append("rect")
        .attr("x", x0).attr("y", y0).attr("width", x1 - x0).attr("height", y1 - y0)
        .style("fill", "none").style("stroke", "#333").style("stroke-width", 1.4);

    const ax = g.append("g").attr("transform", `translate(${x0},0)`)
        .call(d3.axisLeft(y).tickValues(zoomed ? zTicks : eTicks).tickSize(7).tickPadding(3)
            .tickFormat(d => zoomed ? d.toFixed(1) : String(d)));
    ax.select(".domain").remove();
    ax.selectAll("line").style("stroke", "#333");
    ax.selectAll("text").style("font-family", "Liberation Serif").style("font-size", "17px").style("fill", "#111");

    const mn = g.append("g").attr("transform", `translate(${x0},0)`)
        .call(d3.axisLeft(y).tickValues(zoomed ? zMinor : eMinor).tickSize(-4).tickFormat(""));
    mn.select(".domain").remove();
    mn.selectAll("line").style("stroke", "#333");

    // bottom k labels
    if (p.row === 2) {
        const ly = 1035;
        if (!zoomed) {
            kLabels.forEach((lab, j) => {
                g.append("text")
                    .attr("x", j === 0 ? x0 - 2 : j === 3 ? x1 + 5 : x(kPos[j]))
                    .attr("y", ly)
                    .attr("text-anchor", j === 0 ? "start" : j === 3 ? "end" : "middle")
                    .style("font-size", "25px")
                    .text(lab);
            });
        } else {
            g.append("text").attr("x", x0 - 9).attr("y", ly).attr("text-anchor", "start").style("font-size", "25px").text("M");
            g.append("text").attr("x", x(0)).attr("y", ly).attr("text-anchor", "middle").style("font-size", "25px").text("Γ");
            g.append("text").attr("x", x1 + 6).attr("y", ly).attr("text-anchor", "end").style("font-size", "25px").text("K");
            const ay = 1027;
            [[-0.24, -0.8], [0.21, 0.78]].forEach(([a, b]) => {
                const dir = Math.sign(b - a);
                g.append("line").attr("x1", x(a)).attr("x2", x(b)).attr("y1", ay).attr("y2", ay)
                    .style("stroke", "#111").style("stroke-width", 2.6);
                g.append("path")
                    .attr("d", `M${x(b) - dir * 12},${ay - 7} L${x(b)},${ay} L${x(b) - dir * 12},${ay + 7}`)
                    .style("fill", "none").style("stroke", "#111").style("stroke-width", 2.6);
            });
        }
    }

    if (p.row === 0) {
        svg.append("text")
            .attr("x", (x0 + x1) / 2 + (p.col === 0 ? 15 : p.col === 1 ? 8 : 0))
            .attr("y", 27)
            .attr("text-anchor", "middle")
            .style("font-size", "28px")
            .text(titles[p.col]);
    }

    // y-axis titles
    if (p.col === 0 || (p.col === 1 && p.row === 1)) {
        const big = p.col === 0;
        const t = svg.append("text")
            .attr("transform", `translate(${big ? 30 : 479},${(y0 + y1) / 2 + (big ? 2 : 20)}) rotate(-90)`)
            .attr("text-anchor", "middle")
            .style("font-size", big ? "23px" : "19px");
        t.append("tspan").text("E-E");
        t.append("tspan").attr("dy", big ? 5 : 4).style("font-size", big ? "15px" : "12px").text("F");
        t.append("tspan").attr("dy", big ? -5 : -4).text(" (eV)");
    }

    // legend in the first panel
    if (i === 0) {
        g.append("rect").attr("x", 270).attr("y", 108).attr("width", 150).attr("height", 80)
            .style("fill", "#fff");
        const textX = [300, 317, 338];
        legendItems.forEach((it, j) => {
            const cy = 121 + j * 27;
            g.append("circle").attr("cx", 278).attr("cy", cy).attr("r", 6.5).style("fill", it.color);
            const t = g.append("text").attr("x", textX[j]).attr("y", cy + 5)
                .style("font-family", "DejaVu Serif")
                .style("font-style", "italic").style("font-size", "18px");
            let shift = 0;
            it.parts.forEach(([s, sub]) => {
                const want = sub ? 4 : 0;
                t.append("tspan").attr("dy", want - shift)
                    .style("font-size", sub ? "13px" : "18px")
                    .style("font-style", s.trim() === "+" ? "normal" : "italic")
                    .style("font-weight", s.trim() === "+" ? "bold" : "normal")
                    .text(s);
                shift = want;
            });
        });
    }
});
</script>
</body>
</html>
